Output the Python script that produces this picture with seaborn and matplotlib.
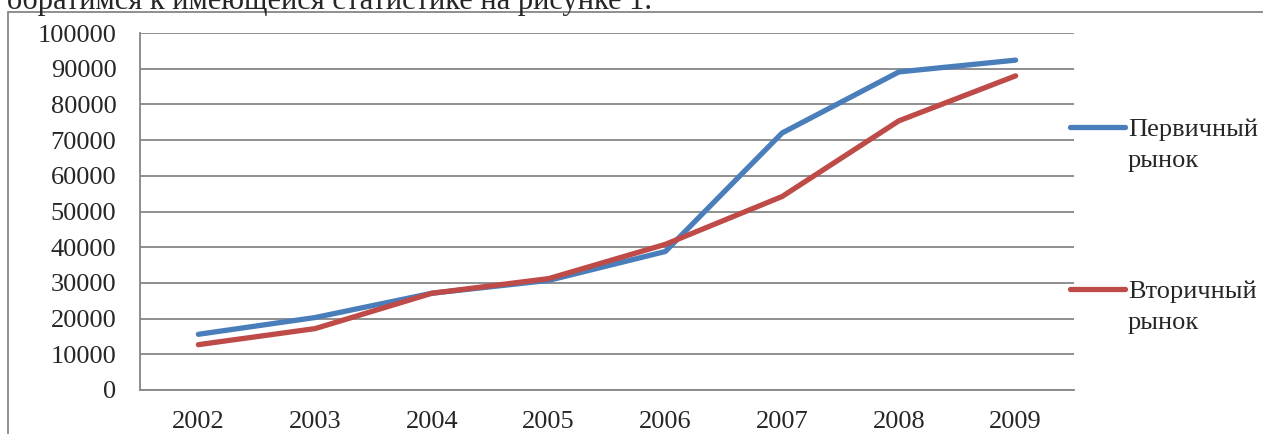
import pandas as pd
import matplotlib
matplotlib.use("Agg")
import matplotlib.pyplot as plt
import seaborn as sns
from matplotlib.lines import Line2D
from matplotlib.patches import Rectangle

# данные с рисунка
years = [2002, 2003, 2004, 2005, 2006, 2007, 2008, 2009]
primary = [15600, 20300, 27100, 30700, 38800, 72000, 89100, 92400]
secondary = [12700, 17200, 27100, 31200, 40800, 54200, 75400, 88000]
series_names = ["Первичный\nрынок", "Вторичный\nрынок"]
colors = ["#4A7EBB", "#BE4B48"]
y_ticks = list(range(0, 100001, 10000))

df = pd.DataFrame({
    "year": years * 2,
    "value": primary + secondary,
    "series": [series_names[0]] * len(years) + [series_names[1]] * len(years),
})

sns.set_style("white")
plt.rcParams["font.family"] = ["Liberation Serif", "DejaVu Serif"]

W, H = 1263, 434
fig = plt.figure(figsize=(W / 100, H / 100), dpi=100)
ax = fig.add_axes([140 / W, 1 - 390 / H, (1074 - 140) / W, (390 - 33) / H])

grid_c = "#868686"
fs = 19
sns.lineplot(data=df, x="year", y="value", hue="series", palette=colors,
             linewidth=3.8, ax=ax, legend=False, solid_capstyle="round")

ax.set_xlim(2001.5, 2009.5)
ax.set_ylim(0, 100000)
ax.set_yticks(y_ticks)
ax.set_yticklabels([str(v) for v in y_ticks])
ax.yaxis.grid(True, color=grid_c, linewidth=1.3)
ax.set_axisbelow(True)

# засечки на границах категорий, подписи по центру
ax.set_xticks([y - 0.5 for y in years] + [years[-1] + 0.5])
ax.set_xticklabels([])
ax.set_xticks(years, minor=True)
ax.set_xticklabels([str(y) for y in years], minor=True)
ax.tick_params(axis="x", which="major", length=6, width=1.3, color=grid_c, direction="out")
ax.tick_params(axis="x", which="minor", length=0, pad=15, labelsize=fs)
ax.tick_params(axis="y", length=6, width=1.3, color=grid_c, pad=11, labelsize=fs)

for s in ["top", "right"]:
    ax.spines[s].set_visible(False)
for s in ["left", "bottom"]:
    ax.spines[s].set_color(grid_c)
    ax.spines[s].set_linewidth(1.3)
ax.set_xlabel("")
ax.set_ylabel("")

# легенда справа
for name, c, yl in zip(series_names, colors, [127, 289]):
    fig.add_artist(Line2D([1070 / W, 1125 / W], [1 - yl / H] * 2, color=c,
                          linewidth=3.8, solid_capstyle="round"))
    first, second = name.split("\n")
    fig.text(1128 / W, 1 - (yl + 9) / H, first, fontsize=fs, va="baseline")
    fig.text(1128 / W, 1 - (yl + 40) / H, second, fontsize=fs, va="baseline")

# рамка диаграммы и обрезанная строка текста сверху
fig.add_artist(Rectangle((8 / W, -0.5), 2, 1 - 12 / H + 0.5, transform=fig.transFigure,
                         fill=False, edgecolor=grid_c, linewidth=1.3))
fig.text(7 / W, 1 - 8.5 / H, "обратимся к имеющейся статистике на рисунке 1.",
         fontsize=22, va="baseline", ha="left")

fig.savefig("out.png", dpi=100)
